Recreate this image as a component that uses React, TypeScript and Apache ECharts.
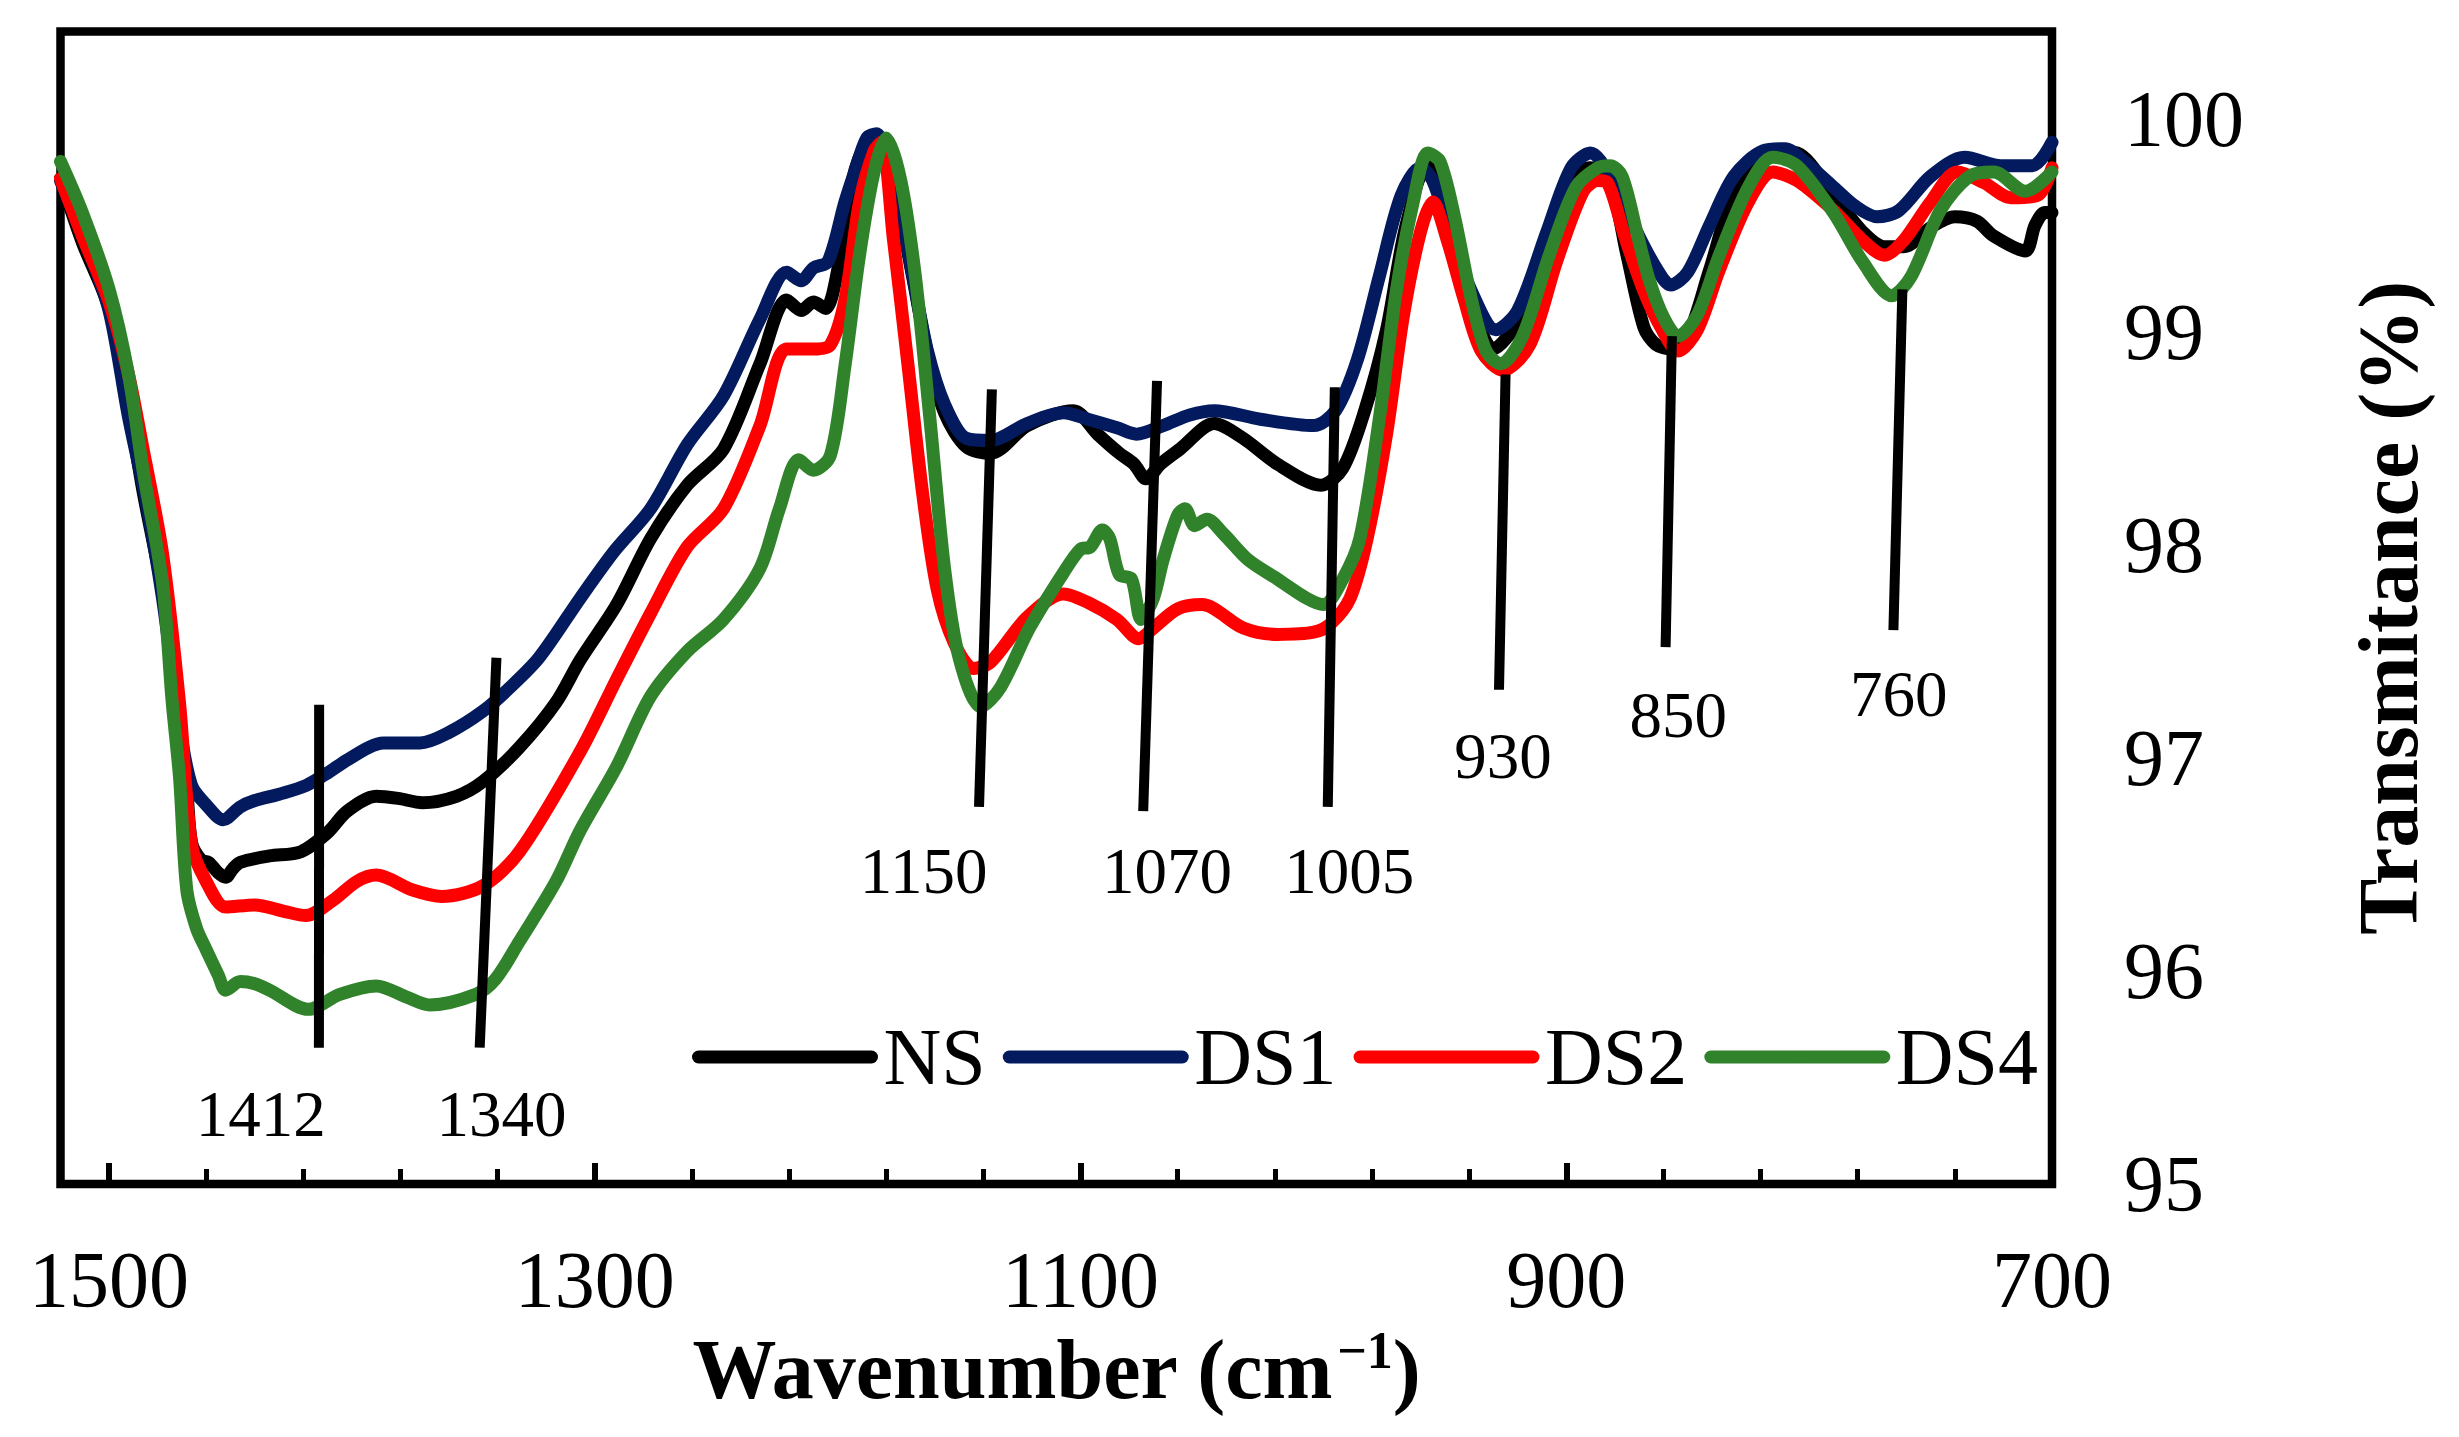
import React, { useEffect, useRef } from "react";
import * as echarts from "echarts";

// ---- data (wavenumber cm^-1, transmittance %) ----
const SERIES_NAMES = ["NS", "DS1", "DS2", "DS4"];
const SERIES_COLORS = ["#000000", "#031a5e", "#ff0000", "#31832b"];

const NS: [number, number][] = [
  [1520, 99.72], [1511, 99.42], [1500, 99.11], [1492, 98.65], [1486, 98.25], [1478, 97.78], [1472, 97.25],
  [1468, 96.85], [1466, 96.6], [1462, 96.52], [1459, 96.51], [1455, 96.46], [1452, 96.44], [1449, 96.48],
  [1446, 96.51], [1434, 96.54], [1421, 96.56], [1410, 96.65], [1402, 96.75], [1390, 96.82], [1381, 96.81],
  [1371, 96.79], [1357, 96.82], [1346, 96.89], [1331, 97.05], [1316, 97.26], [1306, 97.46], [1291, 97.72],
  [1277, 98.03], [1262, 98.28], [1247, 98.45], [1232, 98.85], [1221, 99.15], [1215, 99.1], [1210, 99.14],
  [1205, 99.11], [1200, 99.29], [1194, 99.71], [1188, 99.89], [1183, 99.91], [1178, 99.77], [1169, 99.25],
  [1163, 98.9], [1156, 98.62], [1147, 98.46], [1137, 98.43], [1122, 98.56], [1103, 98.63], [1093, 98.52],
  [1084, 98.43], [1078, 98.38], [1073, 98.31], [1067, 98.38], [1059, 98.45], [1045, 98.57], [1033, 98.5],
  [1019, 98.38], [1001, 98.28], [992, 98.36], [983, 98.63], [974, 99.01], [966, 99.5], [957, 99.78],
  [953, 99.74], [948, 99.45], [939, 99.13], [930, 98.92], [920, 99.05], [908, 99.42], [898, 99.72],
  [890, 99.77], [882, 99.7], [875, 99.36], [868, 99.02], [863, 98.94], [857, 98.92], [850, 98.98],
  [841, 99.29], [831, 99.64], [816, 99.85], [805, 99.84], [790, 99.64], [778, 99.47], [769, 99.4],
  [761, 99.4], [750, 99.49], [740, 99.54], [731, 99.52], [724, 99.45], [711, 99.38], [707, 99.5],
  [703, 99.56], [700, 99.56],
];

const DS1: [number, number][] = [
  [1520, 99.71], [1510, 99.43], [1500, 99.1], [1492, 98.6], [1485, 98.22], [1478, 97.75], [1471, 97.15],
  [1466, 96.87], [1460, 96.78], [1453, 96.71], [1446, 96.77], [1440, 96.8], [1430, 96.83], [1419, 96.87],
  [1410, 96.93], [1402, 96.99], [1393, 97.05], [1387, 97.07], [1372, 97.07], [1360, 97.12], [1346, 97.22],
  [1335, 97.33], [1323, 97.47], [1306, 97.75], [1292, 97.97], [1277, 98.17], [1262, 98.47], [1247, 98.7],
  [1232, 99.06], [1221, 99.28], [1215, 99.24], [1210, 99.3], [1204, 99.33], [1197, 99.61], [1193, 99.75],
  [1188, 99.91], [1184, 99.93], [1178, 99.78], [1169, 99.26], [1163, 98.91], [1156, 98.66], [1147, 98.5],
  [1137, 98.49], [1122, 98.57], [1107, 98.62], [1097, 98.59], [1085, 98.55], [1077, 98.52], [1066, 98.56],
  [1055, 98.61], [1045, 98.63], [1026, 98.59], [1004, 98.56], [995, 98.63], [986, 98.87], [977, 99.26],
  [968, 99.64], [960, 99.77], [955, 99.71], [948, 99.47], [939, 99.19], [929, 99.01], [920, 99.1],
  [908, 99.47], [898, 99.77], [890, 99.84], [882, 99.73], [871, 99.47], [863, 99.3], [857, 99.22],
  [850, 99.28], [841, 99.5], [831, 99.73], [819, 99.85], [810, 99.86], [802, 99.8], [790, 99.68],
  [781, 99.59], [772, 99.54], [763, 99.57], [750, 99.73], [736, 99.82], [721, 99.78], [708, 99.78],
  [700, 99.89],
];

const DS2: [number, number][] = [
  [1520, 99.72], [1511, 99.45], [1500, 99.14], [1492, 98.8], [1486, 98.45], [1478, 97.96], [1471, 97.26],
  [1466, 96.59], [1460, 96.42], [1452, 96.3], [1440, 96.31], [1428, 96.28], [1419, 96.26], [1408, 96.33],
  [1398, 96.42], [1390, 96.45], [1375, 96.38], [1363, 96.35], [1346, 96.4], [1331, 96.56], [1306, 97.03],
  [1291, 97.37], [1277, 97.68], [1262, 97.99], [1247, 98.17], [1232, 98.56], [1221, 98.92], [1210, 98.92],
  [1203, 98.94], [1197, 99.15], [1191, 99.61], [1185, 99.85], [1182, 99.89], [1177, 99.43], [1171, 98.84],
  [1165, 98.24], [1159, 97.79], [1152, 97.54], [1144, 97.42], [1137, 97.45], [1122, 97.66], [1107, 97.77],
  [1097, 97.73], [1085, 97.65], [1076, 97.56], [1070, 97.61], [1060, 97.7], [1050, 97.72], [1033, 97.61],
  [1019, 97.58], [1004, 97.59], [997, 97.63], [989, 97.75], [982, 98.03], [974, 98.52], [967, 99.08],
  [960, 99.47], [955, 99.61], [949, 99.43], [942, 99.15], [935, 98.91], [926, 98.82], [915, 98.94],
  [904, 99.33], [893, 99.66], [887, 99.71], [883, 99.7], [876, 99.45], [868, 99.19], [861, 99.02],
  [854, 98.91], [846, 99.01], [837, 99.29], [825, 99.61], [815, 99.75], [805, 99.71], [790, 99.57],
  [778, 99.43], [769, 99.36], [761, 99.43], [750, 99.61], [739, 99.75], [728, 99.7], [717, 99.63],
  [706, 99.64], [700, 99.77],
];

const DS4: [number, number][] = [
  [1520, 99.8], [1511, 99.56], [1500, 99.2], [1492, 98.8], [1486, 98.35], [1478, 97.82], [1474, 97.26],
  [1471, 96.91], [1468, 96.38], [1464, 96.2], [1460, 96.1], [1455, 95.98], [1452, 95.91], [1446, 95.95],
  [1440, 95.94], [1434, 95.91], [1418, 95.82], [1405, 95.89], [1390, 95.93], [1378, 95.88], [1368, 95.84],
  [1349, 95.89], [1341, 95.96], [1331, 96.14], [1316, 96.42], [1306, 96.66], [1291, 96.96], [1277, 97.29],
  [1262, 97.5], [1247, 97.65], [1232, 97.89], [1224, 98.17], [1216, 98.4], [1210, 98.35], [1203, 98.42],
  [1197, 98.84], [1191, 99.36], [1185, 99.75], [1180, 99.91], [1174, 99.71], [1168, 99.26], [1162, 98.59],
  [1156, 97.89], [1150, 97.47], [1141, 97.24], [1133, 97.33], [1121, 97.61], [1107, 97.87], [1100, 97.98],
  [1096, 97.99], [1091, 98.07], [1088, 98.03], [1084, 97.86], [1079, 97.84], [1075, 97.65], [1070, 97.75],
  [1066, 97.93], [1060, 98.14], [1057, 98.17], [1053, 98.09], [1048, 98.12], [1041, 98.05], [1031, 97.93],
  [1019, 97.84], [1007, 97.75], [1000, 97.72], [992, 97.84], [985, 98.03], [977, 98.59], [970, 99.19],
  [963, 99.61], [957, 99.84], [952, 99.8], [946, 99.54], [939, 99.15], [933, 98.91], [927, 98.85],
  [918, 98.98], [907, 99.36], [896, 99.68], [887, 99.77], [882, 99.78], [877, 99.73], [871, 99.47],
  [866, 99.25], [860, 99.07], [854, 98.98], [846, 99.08], [837, 99.36], [825, 99.68], [815, 99.82],
  [805, 99.78], [790, 99.56], [778, 99.33], [766, 99.17], [758, 99.26], [746, 99.57], [734, 99.73],
  [724, 99.75], [711, 99.66], [700, 99.75],
];

// peak annotations: label, line top end, line bottom end, label position
const ANNOT_LABELS = ["1412", "1340", "1150", "1070", "1005", "930", "850", "760"];
const ANNOT_TOP: [number, number][] = [
  [1413.5, 97.25], [1340.5, 97.47], [1136.5, 98.73], [1068.5, 98.77], [995.3, 98.74], [925, 98.8], [856.5, 98.98], [761.6, 99.2],
];
const ANNOT_BOTTOM: [number, number][] = [
  [1413.6, 95.64], [1347.4, 95.64], [1141.8, 96.77], [1074.2, 96.75], [998.2, 96.77], [927.7, 97.32], [859.1, 97.52], [765.3, 97.6],
];
const ANNOT_TEXT_POS: [number, number][] = [
  [1437.5, 95.33], [1338.4, 95.33], [1164.6, 96.47], [1064.4, 96.47], [989.4, 96.47], [926.1, 97.01], [853.9, 97.2], [763.1, 97.3],
];

// axes
const X_MIN = 700;
const X_MAX = 1520;
const X_MAJOR = 200;
const X_MINOR = 40;
const Y_MIN = 95;
const Y_MAX = 100.41;
const Y_STEP = 1;

const FONT = "'Liberation Serif', 'Times New Roman', serif";

const toXY = (p: [number, number]) => [p[0] - X_MIN, p[1]];

export default function App() {
  const ref = useRef<HTMLDivElement>(null);

  useEffect(() => {
    if (!ref.current) return;
    const chart = echarts.init(ref.current, null, { renderer: "svg" });
    const all = [NS, DS1, DS2, DS4];

    const lineSeries = all.map((arr, i) => ({
      name: SERIES_NAMES[i],
      type: "line",
      data: arr.map(toXY),
      showSymbol: false,
      symbol: "none",
      smooth: 0.3,
      lineStyle: { color: SERIES_COLORS[i], width: 13, cap: "round", join: "round" },
      itemStyle: { color: SERIES_COLORS[i] },
      z: 2 + i * 0.1,
      silent: true,
    }));

    const annotLines = ANNOT_LABELS.map((lab, i) => ({
      name: "peak-" + lab,
      type: "line",
      data: [toXY(ANNOT_TOP[i]), toXY(ANNOT_BOTTOM[i])],
      showSymbol: false,
      symbol: "none",
      lineStyle: { color: "#000", width: 10 },
      z: 4,
      silent: true,
    }));

    const annotText = {
      name: "peak-labels",
      type: "scatter",
      symbol: "circle",
      symbolSize: 0.01,
      itemStyle: { color: "#000", opacity: 1 },
      data: ANNOT_TEXT_POS.map((p, i) => ({ value: [p[0] - X_MIN, p[1]], label: { formatter: ANNOT_LABELS[i] } })),
      label: {
        show: true,
        position: "inside",
        fontFamily: FONT,
        fontSize: 65,
        color: "#000",
        opacity: 1,
        textBorderWidth: 0,
      },
      z: 5,
      silent: true,
    };

    chart.setOption({
      animation: false,
      backgroundColor: "#ffffff",
      textStyle: { fontFamily: FONT, color: "#000" },
      grid: {
        show: true,
        left: 60.5,
        right: 407,
        top: 31.5,
        bottom: 253,
        borderColor: "#000",
        borderWidth: 8.5,
        backgroundColor: "transparent",
        containLabel: false,
      },
      legend: {
        data: SERIES_NAMES,
        left: 692,
        top: 1017,
        padding: 0,
        itemWidth: 173,
        itemHeight: 13,
        itemGap: 17,
        lineStyle: { width: 13, cap: "round" },
        textStyle: { fontFamily: FONT, fontSize: 80, color: "#000", lineHeight: 80, padding: [0, 0, 0, 7] },
        selectedMode: false,
      },
      xAxis: [
        {
          type: "value",
          min: 0,
          max: X_MAX - X_MIN,
          interval: X_MAJOR,
          inverse: true,
          position: "bottom",
          axisLine: { show: false },
          axisTick: { show: true, inside: true, length: 21, lineStyle: { color: "#000", width: 6 } },
          splitLine: { show: false },
          axisLabel: {
            show: true,
            margin: 56,
            fontFamily: FONT,
            fontSize: 80,
            color: "#000",
            showMaxLabel: false,
            formatter: (v: number) => (v % X_MAJOR === 0 ? String(v + X_MIN) : ""),
          },
          name: "{a|Wavenumber (cm}{s|−1}{a|)}",
          nameLocation: "middle",
          nameGap: 120,
          nameTextStyle: {
            rich: {
              a: { fontFamily: FONT, fontSize: 84, fontWeight: "bold", color: "#000", lineHeight: 90 },
              s: { fontFamily: FONT, fontSize: 52, fontWeight: "bold", color: "#000", lineHeight: 90, verticalAlign: "top", padding: [0, 0, 30, 4] },
            },
          },
        },
        {
          type: "value",
          min: 0,
          max: X_MAX - X_MIN,
          interval: X_MINOR,
          inverse: true,
          position: "bottom",
          axisLine: { show: false },
          axisTick: { show: true, inside: true, length: 15, lineStyle: { color: "#000", width: 5 } },
          splitLine: { show: false },
          axisLabel: { show: false },
        },
      ],
      yAxis: {
        type: "value",
        min: Y_MIN,
        max: Y_MAX,
        interval: Y_STEP,
        position: "right",
        axisLine: { show: false },
        axisTick: { show: false },
        splitLine: { show: false },
        axisLabel: {
          margin: 72,
          fontFamily: FONT,
          fontSize: 80,
          color: "#000",
          showMaxLabel: false,
          formatter: (v: number) => (Math.abs(v - Math.round(v)) < 1e-9 ? String(Math.round(v)) : ""),
        },
        name: "Transmitance (%)",
        nameLocation: "middle",
        nameRotate: 90,
        nameGap: 294,
        nameTextStyle: { fontFamily: FONT, fontSize: 84, fontWeight: "bold", color: "#000" },
      },
      series: [...lineSeries, ...annotLines, annotText],
    });

    return () => chart.dispose();
  }, []);

  return (
    <div
      ref={ref}
      style={{ position: "fixed", left: 0, top: 0, width: 2459, height: 1437, background: "#fff" }}
    />
  );
}
